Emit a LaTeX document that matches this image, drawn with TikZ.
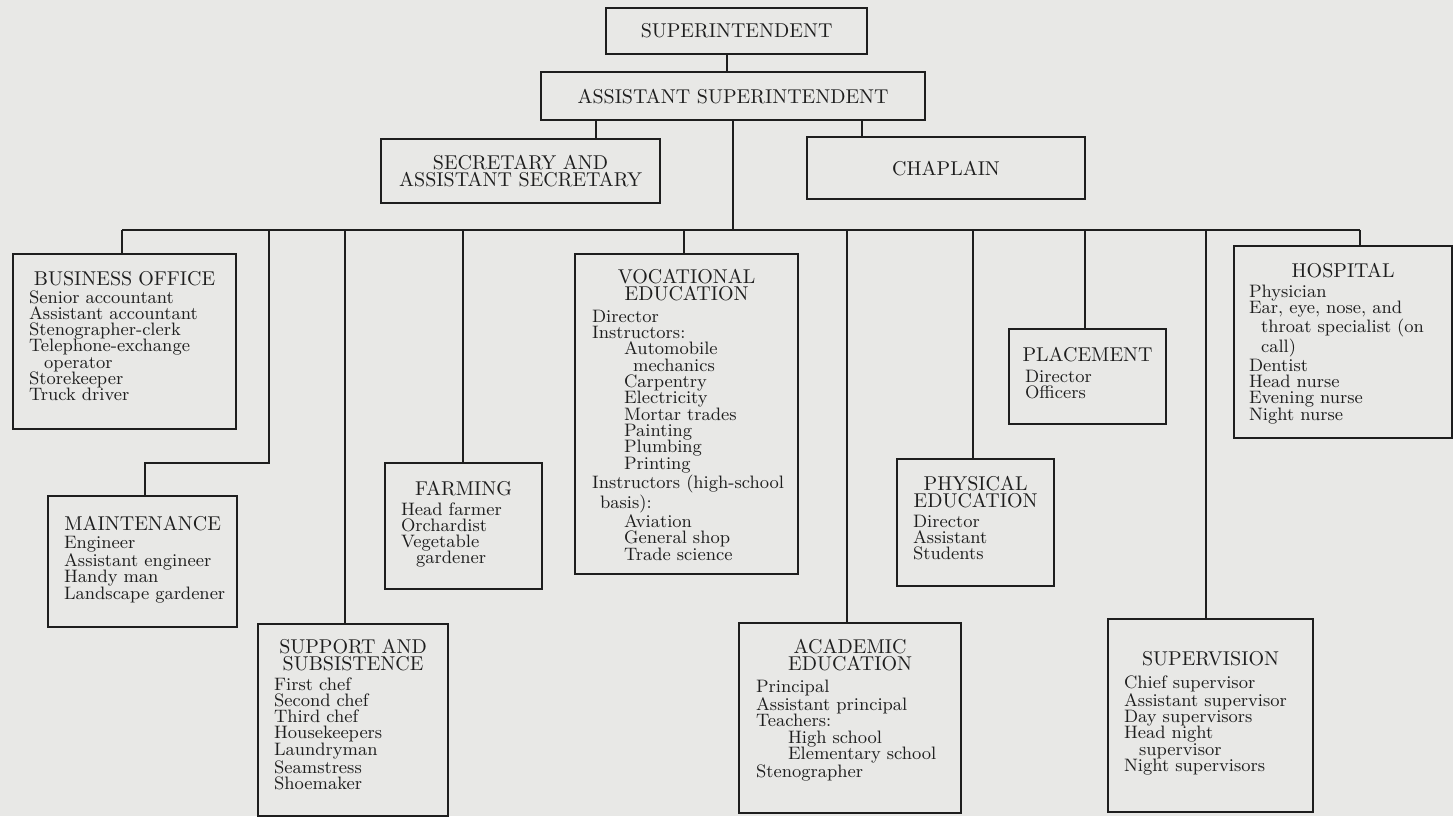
\documentclass[tikz,border=0pt]{standalone}
\usetikzlibrary{calc}
\definecolor{bg}{HTML}{E8E8E6}
\definecolor{ink}{HTML}{1E1E1E}
\newcommand\ttl[1]{{\centering\fontsize{10}{8.5}\selectfont #1\par}}
\newcommand\bdy[2]{\par\vspace{#1}\leftskip=#2\relax}
\begin{document}
\lineskiplimit=-10pt
\begin{tikzpicture}[x=0.5pt,y=-0.5pt,
  box/.style={draw=ink, line width=1.1pt, inner sep=0pt, anchor=north west, text=ink},
  sz/.style 2 args={minimum width=#1*0.5pt, minimum height=#2*0.5pt},
  ttext/.style={font=\fontsize{10}{8.5}\selectfont, align=center},
  dtext/.style={anchor=base, inner sep=0pt, text=ink, font=\fontsize{9}{8.15}\selectfont},
  conn/.style={draw=ink, line width=1pt}]
\useasboundingbox (0,0) rectangle (1453,816);
\fill[bg] (0,0) rectangle (1453,816);

% top boxes
\node[box, sz={261}{46}, ttext] (sup) at (605,7) {SUPERINTENDENT};
\node[box, sz={384}{48}, ttext] (asst) at (540,71) {ASSISTANT SUPERINTENDENT};
\node[box, sz={279}{64}, ttext] (sec) at (380,138) {SECRETARY AND\\ASSISTANT SECRETARY};
\node[box, sz={278}{62}, ttext] (chap) at (806,136) {CHAPLAIN};

% department boxes
\node[box, sz={223}{175}] (bus) at (12,253) {};
\node[box, sz={189}{131}] (maint) at (47,495) {};
\node[box, sz={190}{192}] (supp) at (257,623) {};
\node[box, sz={157}{126}] (farm) at (384,462) {};
\node[box, sz={223}{320}] (voc) at (574,253) {};
\node[box, sz={222}{190}] (acad) at (738,622) {};
\node[box, sz={157}{127}] (phys) at (896,458) {};
\node[box, sz={157}{95}] (place) at (1008,328) {};
\node[box, sz={205}{193}] (superv) at (1107,618) {};
\node[box, sz={218}{192}] (hosp) at (1233,245) {};

% texts
\node[dtext, text width=223*0.5pt] (bus-t) at ($(bus.north)+(0,32)$)
 {\ttl{BUSINESS OFFICE}\bdy{0.85pt}{8pt}Senior accountant\\Assistant accountant\\Stenographer-clerk\\Telephone-exchange\\\hspace*{7.5pt}operator\\Storekeeper\\Truck driver\par};
\node[dtext, text width=189*0.5pt] (maint-t) at ($(maint.north)+(0,35)$)
 {\ttl{MAINTENANCE}\bdy{0.85pt}{8pt}Engineer\\Assistant engineer\\Handy man\\Landscape gardener\par};
\node[dtext, text width=190*0.5pt] (supp-t) at ($(supp.north)+(0,30)$)
 {\ttl{SUPPORT AND\\SUBSISTENCE}\bdy{1.85pt}{8pt}First chef\\Second chef\\Third chef\\Housekeepers\\Laundryman\\Seamstress\\Shoemaker\par};
\node[dtext, text width=157*0.5pt] (farm-t) at ($(farm.north)+(0,33)$)
 {\ttl{FARMING}\bdy{1.85pt}{8pt}Head farmer\\Orchardist\\Vegetable\\\hspace*{7.5pt}gardener\par};
\node[dtext, text width=223*0.5pt] (voc-t) at ($(voc.north)+(0,30)$)
 {\ttl{VOCATIONAL\\EDUCATION}\bdy{3pt}{8.5pt}Director\\Instructors:\\\hspace*{16pt}Automobile\\\hspace*{20.5pt}mechanics\\\hspace*{16pt}Carpentry\\\hspace*{16pt}Electricity\\\hspace*{16pt}Mortar trades\\\hspace*{16pt}Painting\\\hspace*{16pt}Plumbing\\\hspace*{16pt}Printing\\Instructors (high-school\\\hspace*{4pt}basis):\\\hspace*{16pt}Aviation\\\hspace*{16pt}General shop\\\hspace*{16pt}Trade science\par};
\node[dtext, text width=222*0.5pt] (acad-t) at ($(acad.north)+(0,31)$)
 {\ttl{ACADEMIC\\EDUCATION}\bdy{3pt}{8.5pt}Principal\\Assistant principal\\Teachers:\\\hspace*{16pt}High school\\\hspace*{16pt}Elementary school\\Stenographer\par};
\node[dtext, text width=157*0.5pt] (phys-t) at ($(phys.north)+(0,32)$)
 {\ttl{PHYSICAL\\EDUCATION}\bdy{2pt}{8pt}Director\\Assistant\\Students\par};
\node[dtext, text width=157*0.5pt] (place-t) at ($(place.north)+(0,33)$)
 {\ttl{PLACEMENT}\bdy{2.35pt}{8pt}Director\\Officers\par};
\node[dtext, text width=205*0.5pt] (superv-t) at ($(superv.north)+(0,47)$)
 {\ttl{SUPERVISION}\bdy{3.35pt}{8pt}Chief supervisor\\Assistant supervisor\\Day supervisors\\Head night\\\hspace*{7.5pt}supervisor\\Night supervisors\par};
\node[dtext, text width=218*0.5pt] (hosp-t) at ($(hosp.north)+(0,32)$)
 {\ttl{HOSPITAL}\bdy{1.85pt}{7.5pt}Physician\\Ear, eye, nose, and\\\hspace*{6pt}\makebox[89.5pt][s]{throat specialist (on}\\\hspace*{6pt}call)\\Dentist\\Head nurse\\Evening nurse\\Night nurse\par};

% connectors
\coordinate (sd) at (727,0);
\coordinate (secd) at (596,0);
\coordinate (chd) at (862,0);
\coordinate (T) at (733,230);
\coordinate (bL) at (122,230);
\coordinate (bR) at (1360,230);
\coordinate (d2) at (269,230);
\coordinate (d3) at (345,230);
\coordinate (d4) at (463,230);
\coordinate (d5) at (684,230);
\coordinate (d6) at (847,230);
\coordinate (d7) at (973,230);
\coordinate (d8) at (1085,230);
\coordinate (d9) at (1206,230);
\coordinate (mk) at (269,463);

\draw[conn] (sd |- sup.south) -- (sd |- asst.north);
\draw[conn] (secd |- asst.south) -- (secd |- sec.north);
\draw[conn] (chd |- asst.south) -- (chd |- chap.north);
\draw[conn] (T |- asst.south) -- (T);
\draw[conn] (bL) -- (bR);
\draw[conn] (bL) -- (bL |- bus.north);
\draw[conn] (d2) -- (mk) -| ([xshift=1pt]maint.north);
\draw[conn] (d3) -- (d3 |- supp.north);
\draw[conn] (d4) -- (d4 |- farm.north);
\draw[conn] (d5) -- (d5 |- voc.north);
\draw[conn] (d6) -- (d6 |- acad.north);
\draw[conn] (d7) -- (d7 |- phys.north);
\draw[conn] (d8) -- (d8 |- place.north);
\draw[conn] (d9) -- (d9 |- superv.north);
\draw[conn] (bR) -- (bR |- hosp.north);
\end{tikzpicture}
\end{document}
